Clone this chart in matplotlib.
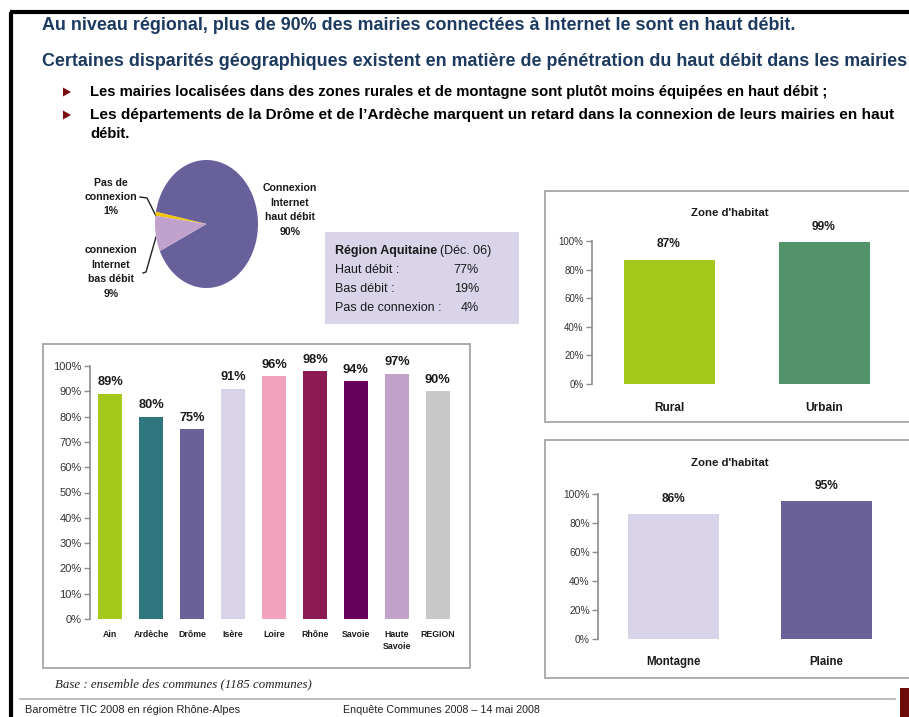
import matplotlib
matplotlib.use("Agg")
import matplotlib.pyplot as plt
from matplotlib import font_manager
from matplotlib.patches import Rectangle, Polygon
import matplotlib.ticker as mticker

W, H = 909, 717

# --- data -------------------------------------------------------------
pie_labels = ["Connexion\nInternet\nhaut débit\n90%", "Pas de\nconnexion\n1%",
              "connexion\nInternet\nbas débit\n9%"]
pie_values = [90, 1, 9]

dept_names = ["Ain", "Ardèche", "Drôme", "Isère", "Loire", "Rhône", "Savoie",
              "Haute\nSavoie", "REGION"]
dept_values = [89, 80, 75, 91, 96, 98, 94, 97, 90]

habitat_names = ["Rural", "Urbain"]
habitat_values = [87, 99]

relief_names = ["Montagne", "Plaine"]
relief_values = [86, 95]

aquitaine_rows = ["Haut débit :", "Bas débit :", "Pas de connexion :"]
aquitaine_values = ["77%", "19%", "4%"]

yticks_main = [0, 10, 20, 30, 40, 50, 60, 70, 80, 90, 100]
yticks_small = [0, 20, 40, 60, 80, 100]

# --- styles -----------------------------------------------------------
names = {f.name for f in font_manager.fontManager.ttflist}
NARROW = "Liberation Sans Narrow" if "Liberation Sans Narrow" in names else "Liberation Sans"
SANS = "Liberation Sans"
SERIF = "Liberation Serif"
plt.rcParams["font.family"] = [SANS, "DejaVu Sans"]

NAVY = "#1d3a60"
AXGRAY = "#8c8c8c"
FRAME = "#a6a6a6"

pie_colors = ["#68609a", "#f2c500", "#c1a2cc"]
dept_colors = ["#a4c91c", "#2f767e", "#6a6198", "#d8d3e8", "#f2a2bc",
               "#8b1a53", "#66005a", "#c2a1cb", "#c8c8c8"]
habitat_colors = ["#a4c91c", "#52936a"]
relief_colors = ["#d8d3e8", "#6a6198"]

fig = plt.figure(figsize=(W / 100, H / 100), dpi=100)
fig.patch.set_facecolor("white")

# background canvas in pixel coordinates
bg = fig.add_axes([0, 0, 1, 1], zorder=0)
bg.set_xlim(0, W)
bg.set_ylim(H, 0)
bg.axis("off")

renderer = fig.canvas.get_renderer()


def fitted_text(x, y, s, width, **kw):
    t = bg.text(x, y, s, **kw)
    ext = t.get_window_extent(renderer)
    t.set_fontsize(t.get_fontsize() * width / ext.width)
    return t


def px_axes(x0, y0, x1, y1):
    return fig.add_axes([x0 / W, 1 - y1 / H, (x1 - x0) / W, (y1 - y0) / H], zorder=2)


# slide frame
bg.plot([10, W], [12, 12], color="black", lw=3.0, solid_capstyle="butt")
bg.plot([10.5, 10.5], [12, H], color="black", lw=3.0, solid_capstyle="butt")

# headings
fitted_text(42, 25, "Au niveau régional, plus de 90% des mairies connectées à Internet le sont en haut débit.",
            753, family=NARROW, weight="bold", color=NAVY, fontsize=14, va="center")
fitted_text(42, 62, "Certaines disparités géographiques existent en matière de pénétration du haut débit dans les mairies",
            863, family=NARROW, weight="bold", color=NAVY, fontsize=14, va="center")

bullets = [(92, "Les mairies localisées dans des zones rurales et de montagne sont plutôt moins équipées en haut débit ;", 737),
           (115, "Les départements de la Drôme et de l’Ardèche marquent un retard dans la connexion de leurs mairies en haut", 808)]
for yb, txt, wd in bullets:
    bg.add_patch(Polygon([[63, yb - 4.5], [63, yb + 4.5], [71, yb]], closed=True,
                         color="#7a0c0c", lw=0))
    fitted_text(90, yb, txt, wd, family=NARROW, weight="bold", color="black",
                fontsize=11, va="center")
fitted_text(90, 134, "débit.", 40, family=NARROW, weight="bold", color="black",
            fontsize=11, va="center")

# --- pie -------------------------------------------------------------
axp = px_axes(155, 160, 258, 288)
axp.pie(pie_values, colors=pie_colors, startangle=205, counterclock=True,
        wedgeprops=dict(linewidth=0))
axp.set_aspect("auto")
axp.set_xlim(-1, 1)
axp.set_ylim(-1, 1)
axp.axis("off")

lab_kw = dict(weight="bold", fontsize=7.6, ha="center", va="center",
              color="#1a1a1a", linespacing=1.55)
bg.text(290, 210, pie_labels[0], **lab_kw)
bg.text(111, 197, pie_labels[1], **lab_kw)
bg.text(111, 272, pie_labels[2], **lab_kw)
bg.plot([140, 147, 156], [197, 198, 216], color="#222222", lw=1.0)
bg.plot([143, 146, 156], [273, 272, 237], color="#222222", lw=1.0)

# Aquitaine comparison box
bg.add_patch(Rectangle((325, 232), 194, 92, facecolor="#d9d4ea", edgecolor="none"))
t1 = bg.text(335, 251, "Région Aquitaine", weight="bold", fontsize=9.0,
             va="center", color="#1a1a1a")
ext = t1.get_window_extent(renderer)
bg.text(335 + ext.width + 3, 251, "(Déc. 06)", fontsize=9.0, va="center",
        color="#1a1a1a")
for i, (row, val) in enumerate(zip(aquitaine_rows, aquitaine_values)):
    yy = 270 + 19 * i
    bg.text(335, yy, row, fontsize=9.0, va="center", color="#1a1a1a")
    bg.text(479, yy, val, fontsize=9.0, va="center", ha="right", color="#1a1a1a")

# panel frames
for (x0, y0, x1, y1) in [(43, 344, 470, 668), (545, 191, 915, 422), (545, 440, 915, 678)]:
    bg.add_patch(Rectangle((x0, y0), x1 - x0, y1 - y0, facecolor="white",
                           edgecolor=FRAME, lw=1.3))


def style_axis(ax, ticks, label_size, pad_x, cat_size):
    ax.set_ylim(0, 100)
    ax.set_yticks(ticks)
    ax.yaxis.set_major_formatter(mticker.FuncFormatter(lambda v, p: f"{v:.0f}%"))
    for side in ("top", "right", "bottom"):
        ax.spines[side].set_visible(False)
    ax.spines["left"].set_color(AXGRAY)
    ax.spines["left"].set_linewidth(1.2)
    ax.tick_params(axis="y", length=4, width=1.0, color=AXGRAY,
                   labelsize=label_size, labelcolor="#333333", pad=2)
    ax.tick_params(axis="x", length=0, pad=pad_x, labelsize=cat_size)
    for lab in ax.get_xticklabels():
        lab.set_fontweight("bold")
        lab.set_color("#1a1a1a")
    ax.patch.set_alpha(0)


# --- departments bar chart --------------------------------------------
axm = px_axes(90, 366, 460, 619)
xm = list(range(len(dept_names)))
bars = axm.bar(xm, dept_values, width=0.59, color=dept_colors)
axm.set_xlim(-0.49, 8.54)
axm.set_xticks(xm, dept_names)
style_axis(axm, yticks_main, 8.0, 8, 6.3)
for lab in axm.get_xticklabels():
    lab.set_linespacing(1.35)
for b, v in zip(bars, dept_values):
    axm.annotate(f"{v}%", (b.get_x() + b.get_width() / 2, v), xytext=(0, 4),
                 textcoords="offset points", ha="center", va="bottom",
                 weight="bold", fontsize=9.2, color="#1a1a1a", annotation_clip=False)

# --- habitat: rural / urbain --------------------------------------------
axh = px_axes(592, 241, 900, 384)
xh = list(range(len(habitat_names)))
bh = axh.bar(xh, habitat_values, width=0.587, color=habitat_colors)
axh.set_xlim(-0.497, 1.49)
axh.set_xticks(xh, habitat_names)
style_axis(axh, yticks_small, 7.0, 13, 8.6)
for b, v in zip(bh, habitat_values):
    axh.annotate(f"{v}%", (b.get_x() + b.get_width() / 2, v), xytext=(0, 7),
                 textcoords="offset points", ha="center", va="bottom",
                 weight="bold", fontsize=8.6, color="#1a1a1a", annotation_clip=False)
bg.text(730, 213, "Zone d'habitat", weight="bold", fontsize=8.2, ha="center",
        va="center", color="#1a1a1a")

# --- habitat: montagne / plaine ------------------------------------------
axr = px_axes(598, 494, 900, 639)
xr = list(range(len(relief_names)))
br = axr.bar(xr, relief_values, width=0.595, color=relief_colors)
axr.set_xlim(-0.49, 1.48)
axr.set_xticks(xr, relief_names)
style_axis(axr, yticks_small, 7.4, 12, 8.3)
for b, v in zip(br, relief_values):
    axr.annotate(f"{v}%", (b.get_x() + b.get_width() / 2, v), xytext=(0, 7),
                 textcoords="offset points", ha="center", va="bottom",
                 weight="bold", fontsize=8.6, color="#1a1a1a", annotation_clip=False)
bg.text(730, 463, "Zone d'habitat", weight="bold", fontsize=8.2, ha="center",
        va="center", color="#1a1a1a")

# --- footnote and footer ------------------------------------------------
fitted_text(55, 684, "Base : ensemble des communes (1185 communes)", 255,
            family=SERIF, style="italic", fontsize=9, va="center", color="#222222")
bg.plot([20, 895], [699, 699], color="#b0b0b0", lw=1.2)
fitted_text(25, 710, "Baromètre TIC 2008 en région Rhône-Alpes", 215,
            family=NARROW, fontsize=7, va="center", color="#222222")
fitted_text(343, 710, "Enquête Communes 2008 – 14 mai 2008", 197,
            family=NARROW, fontsize=7, va="center", color="#222222")
bg.add_patch(Rectangle((900, 688), 12, 32, facecolor="#6e0b0b", edgecolor="none"))

fig.savefig("out.png", dpi=100)
